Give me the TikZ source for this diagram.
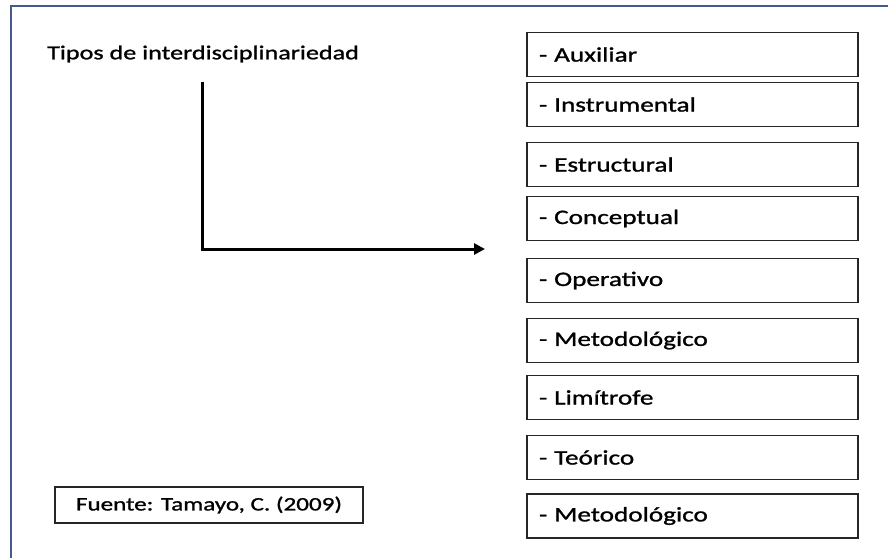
\documentclass[tikz,border=0pt]{standalone}
\usepackage{fontspec}
\setmainfont{Carlito}
\newfontfamily\widefont[FakeStretch=1.32,FakeBold=1.2]{Carlito}
\usetikzlibrary{arrows.meta}

\definecolor{framecol}{rgb}{0.27,0.35,0.55}

\tikzset{
  typbox/.style={draw=black!85, line width=1.4pt, text width=307pt, inner xsep=12pt,
    minimum height=44pt, align=left, font=\widefont\fontsize{20.6}{22}\selectfont},
  flow/.style={line width=3pt, -{Triangle[length=11pt,width=11pt]}}
}

\begin{document}
\begin{tikzpicture}[x=1pt,y=-1pt]
  \useasboundingbox (0,0) rectangle (888,558);

  % outer frame (only top and left visible)
  \draw [framecol, line width=2pt] (888,5.5) -- (10.5,5.5) -- (10.5,558);

  % title
  \node [anchor=west, inner sep=0pt, font=\widefont\fontsize{19.8}{21}\selectfont] (title) at (47,54) {Tipos de interdisciplinariedad};

  % arrow
  \coordinate (start) at (202,82);
  \coordinate (tip) at (485,249);
  \draw [flow] (start) |- (tip);

  % list of types
  \node [typbox] (aux)  at (692.5,54.5)  {- Auxiliar};
  \node [typbox] (ins)  at (692.5,104.5) {- Instrumental};
  \node [typbox] (est)  at (692.5,164.5) {- Estructural};
  \node [typbox] (con)  at (692.5,218.5) {- Conceptual};
  \node [typbox] (ope)  at (692.5,280.5) {- Operativo};
  \node [typbox] (met)  at (692.5,340.5) {- Metodológico};
  \node [typbox] (lim)  at (692.5,397.5) {- Limítrofe};
  \node [typbox] (teo)  at (692.5,457.5) {- Teórico};
  \node [typbox] (met2) at (692.5,516)   {- Metodológico};

  % source
  \node [draw=black!85, line width=1.4pt, minimum width=308pt, minimum height=36pt,
    font=\widefont\fontsize{19}{21}\selectfont] (src) at (209,505) {Fuente: Tamayo, C. (2009)};
\end{tikzpicture}
\end{document}
